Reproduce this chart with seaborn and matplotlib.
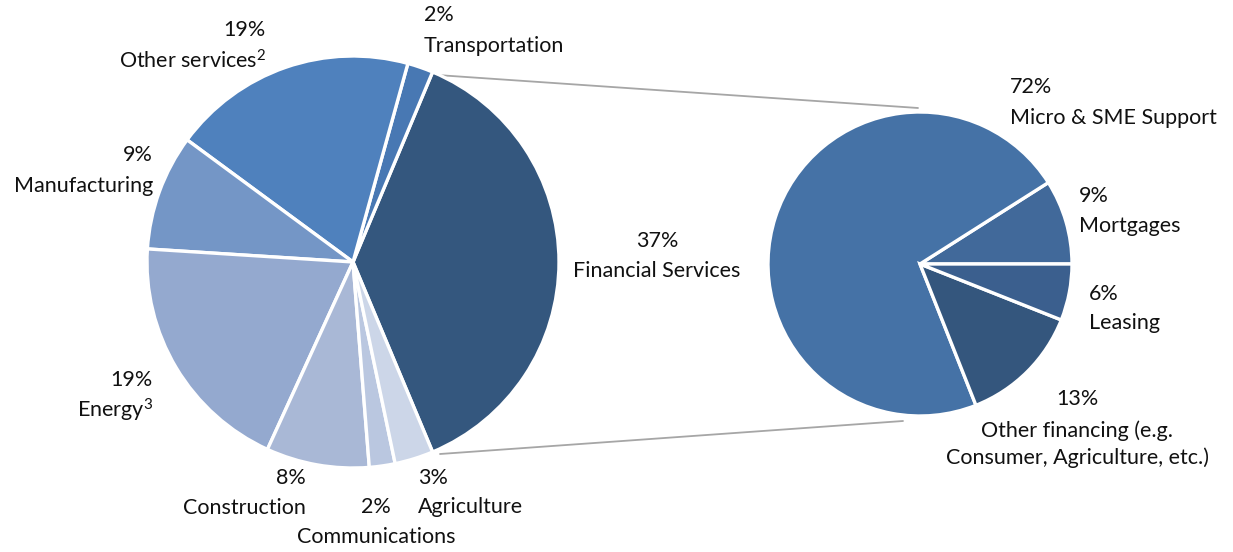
import numpy as np
import matplotlib.pyplot as plt
import seaborn as sns

# ── data ──────────────────────────────────────────────────────────
sectors = ["Financial Services", "Transportation", "Other services$^2$", "Manufacturing",
           "Energy$^3$", "Construction", "Communications", "Agriculture"]
sector_pct = [37, 2, 19, 9, 19, 8, 2, 3]
sector_colors = ["#34577E", "#4878B3", "#4F81BD", "#7496C6",
                 "#94A9CF", "#A9B8D6", "#BAC7E0", "#CCD6E8"]

fin_types = ["Mortgages", "Micro & SME Support", "Other financing (e.g.\nConsumer, Agriculture, etc.)", "Leasing"]
fin_pct = [9, 72, 13, 6]
fin_colors = ["#41699A", "#4572A6", "#34567D", "#3B5F8E"]

W, H = 1233, 552
sns.set_theme(style="white")
plt.rcParams["font.family"] = ["Lato", "DejaVu Sans"]
plt.rcParams["mathtext.fontset"] = "custom"
plt.rcParams["mathtext.rm"] = "Lato"
plt.rcParams["mathtext.default"] = "rm"

fig = plt.figure(figsize=(W / 100, H / 100), dpi=100)
ax = fig.add_axes([0, 0, 1, 1])

def py(y):
    # pixel y (top down) -> data y
    return H - y

# left pie, financial services centred on the right-hand side
c1, r1 = (353, py(262)), 206
start1 = -sector_pct[0] / sum(sector_pct) * 180
ax.pie(sector_pct, colors=sector_colors, startangle=start1, counterclock=True,
       center=c1, radius=r1, frame=True,
       wedgeprops=dict(edgecolor="white", linewidth=2.4))

# right pie, breakdown of financial services
c2, r2 = (920, py(264)), 152
ax.pie(fin_pct, colors=fin_colors, startangle=0, counterclock=True,
       center=c2, radius=r2, frame=True,
       wedgeprops=dict(edgecolor="white", linewidth=2.4))

# connector lines between the two pies
ax.plot([437, 918], [py(75), py(108)], color="#A6A6A6", lw=1.3, zorder=0)
ax.plot([440, 903], [py(454), py(421)], color="#A6A6A6", lw=1.3, zorder=0)

# ── labels: percent line and name line drawn separately ──────────
fs = 15.5
def lab(x, y_pct, y_name, pct, name, ha):
    ax.text(x, py(y_pct), f"{pct}%", ha=ha, va="center", fontsize=fs, color="#111111")
    ax.text(x, py(y_name), name, ha=ha, va="center", fontsize=fs,
            linespacing=1.38, color="#111111")

lab(657, 241, 271, sector_pct[0], sectors[0], "center")
lab(424, 15, 46, sector_pct[1], sectors[1], "left")
lab(266, 30, 61, sector_pct[2], sectors[2], "right")
lab(153, 155, 186, sector_pct[3], sectors[3], "right")
lab(153, 380, 410, sector_pct[4], sectors[4], "right")
lab(306, 478, 508, sector_pct[5], sectors[5], "right")
lab(376, 507, 537, sector_pct[6], sectors[6], "center")
lab(418, 478, 507, sector_pct[7], sectors[7], "left")

lab(1079, 196, 226, fin_pct[0], fin_types[0], "left")
lab(1010, 87, 118, fin_pct[1], fin_types[1], "left")
lab(1077, 399, 444, fin_pct[2], fin_types[2], "center")
lab(1089, 294, 323, fin_pct[3], fin_types[3], "left")

ax.set_xlim(0, W)
ax.set_ylim(0, H)
ax.axis("off")

fig.savefig("out.png", dpi=100)
